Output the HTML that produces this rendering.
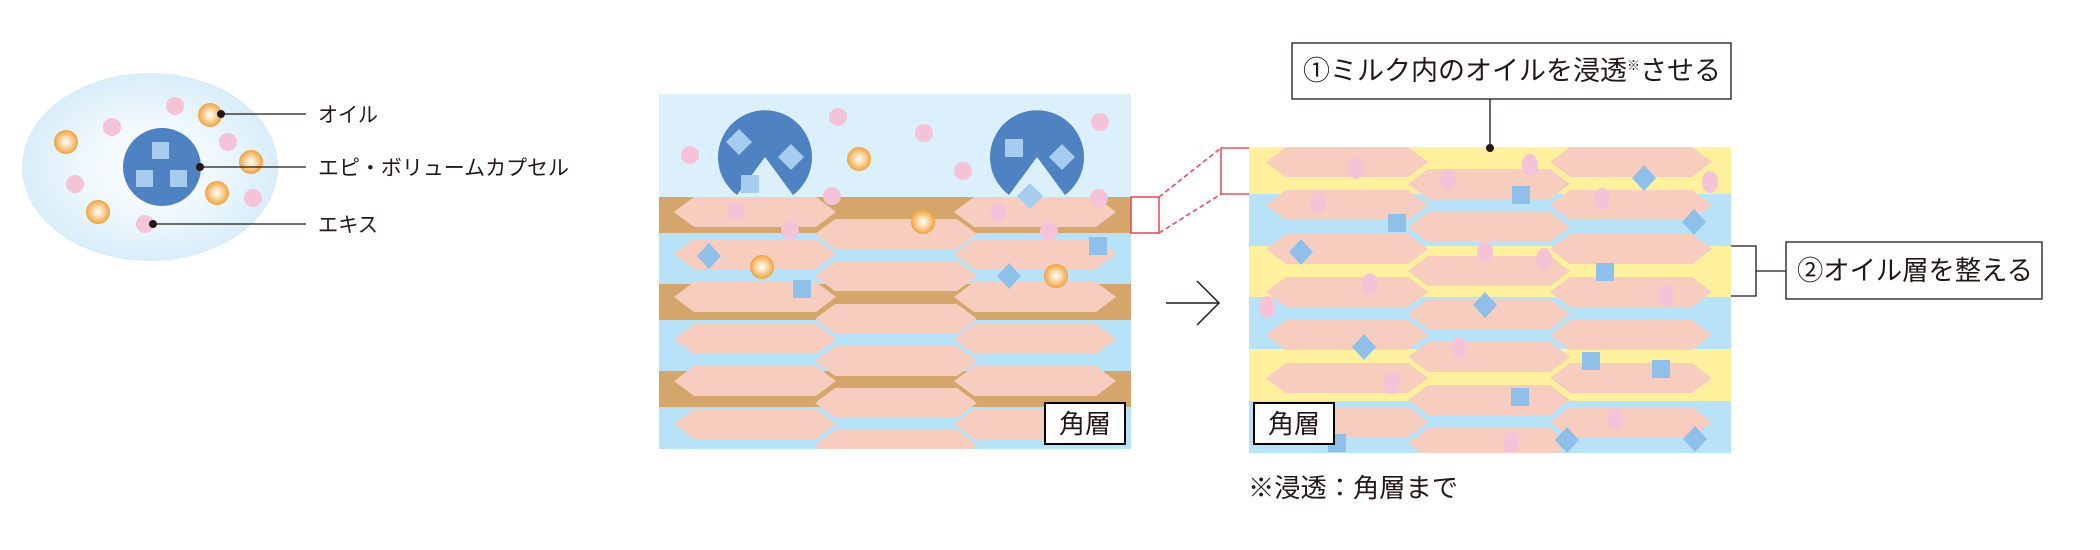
<!DOCTYPE html>
<html><head><meta charset="utf-8"><style>
html,body{margin:0;padding:0;background:#fff;}
svg{display:block;}
text{font-family:"Liberation Sans","Noto Sans CJK JP",sans-serif;fill:#231815;}
</style></head><body>
<svg width="2100" height="550" viewBox="0 0 2100 550" xmlns="http://www.w3.org/2000/svg">
<defs>
<radialGradient id="eg" cx="50%" cy="50%" r="50%"><stop offset="0" stop-color="#ffffff"/><stop offset="0.55" stop-color="#eef7fc"/><stop offset="1" stop-color="#d8edf9"/></radialGradient>
<radialGradient id="og" cx="50%" cy="50%" r="50%"><stop offset="0" stop-color="#ffffff"/><stop offset="0.45" stop-color="#fbd9a8"/><stop offset="1" stop-color="#f0a23e"/></radialGradient>
<polygon id="hx" points="0,15 20,0 142,0 162,15 142,30 20,30" fill="#f7cdbf"/>
<g id="ob"><circle r="12" fill="url(#og)"/></g>
<g id="pk"><ellipse rx="9" ry="9" fill="#f5c3d7"/></g>
<g id="pk2"><ellipse rx="8" ry="11" fill="#f5c3d7"/></g>
<rect id="sq" x="-9" y="-9" width="18" height="18" fill="#8fc0ea"/>
<polygon id="dm" points="0,-13 12,0 0,13 -12,0" fill="#8fc0ea"/>
<clipPath id="c1"><rect x="659" y="94" width="472" height="355"/></clipPath>
<clipPath id="c2"><rect x="1249" y="147" width="482" height="306"/></clipPath>
</defs>

<!-- LEFT -->
<ellipse cx="150" cy="167" rx="128" ry="94" fill="url(#eg)"/>
<circle cx="162" cy="167" r="39" fill="#4f82c3"/>
<rect x="152" y="142" width="17" height="17" fill="#a6cdf0"/>
<rect x="136" y="170" width="17" height="17" fill="#a6cdf0"/>
<rect x="170" y="170" width="17" height="17" fill="#a6cdf0"/>
<use href="#ob" x="210" y="115"/><use href="#ob" x="66" y="142"/><use href="#ob" x="251" y="162"/><use href="#ob" x="217" y="193"/><use href="#ob" x="98" y="212"/>
<use href="#pk" x="175" y="106"/><use href="#pk" x="112" y="127"/><use href="#pk" x="228" y="142"/><use href="#pk" x="75" y="184"/><use href="#pk" x="253" y="198"/><use href="#pk" x="145" y="224"/>
<g stroke="#231815" stroke-width="1.3">
<line x1="221" y1="114" x2="306" y2="114"/><line x1="200" y1="167" x2="306" y2="167"/><line x1="153" y1="224" x2="306" y2="224"/></g>
<circle cx="221" cy="114" r="4" fill="#231815"/><circle cx="200" cy="167" r="4" fill="#231815"/><circle cx="153" cy="224" r="4" fill="#231815"/>
<text x="318" y="122" font-size="21" textLength="60" lengthAdjust="spacingAndGlyphs">オイル</text>
<text x="318" y="175" font-size="21" textLength="251" lengthAdjust="spacingAndGlyphs">エピ・ボリュームカプセル</text>
<text x="318" y="232" font-size="21" textLength="60" lengthAdjust="spacingAndGlyphs">エキス</text>

<!-- MIDDLE -->
<g clip-path="url(#c1)">
<rect x="659" y="94" width="472" height="355" fill="#b8e2f7"/>
<rect x="659" y="94" width="472" height="103" fill="#dcf0fb"/>
<rect x="659" y="197" width="472" height="36" fill="#d5a66c"/>
<rect x="659" y="284" width="472" height="36" fill="#d5a66c"/>
<rect x="659" y="371" width="472" height="36" fill="#d5a66c"/>
<g>
<use href="#hx" x="674" y="197"/><use href="#hx" x="954" y="197"/>
<use href="#hx" x="674" y="239"/><use href="#hx" x="954" y="239"/>
<use href="#hx" x="674" y="282"/><use href="#hx" x="954" y="282"/>
<use href="#hx" x="674" y="324"/><use href="#hx" x="954" y="324"/>
<use href="#hx" x="674" y="366"/><use href="#hx" x="954" y="366"/>
<use href="#hx" x="674" y="409"/><use href="#hx" x="954" y="409"/>
<use href="#hx" x="815" y="219"/><use href="#hx" x="815" y="261"/><use href="#hx" x="815" y="304"/><use href="#hx" x="815" y="346"/><use href="#hx" x="815" y="388"/><use href="#hx" x="815" y="430"/>
</g>
<path d="M 737 195 A 47 47 0 1 1 793 195 L 765 157 Z" fill="#4f82c3"/>
<path d="M 1009 195 A 47 47 0 1 1 1065 195 L 1037 157 Z" fill="#4f82c3"/>
<polygon points="739,129 752,142 739,155 726,142" fill="#a6cdf0"/>
<polygon points="791,144 804,157 791,170 778,157" fill="#a6cdf0"/>
<rect x="741" y="175" width="18" height="18" fill="#a6cdf0"/>
<rect x="1005" y="139" width="18" height="18" fill="#a6cdf0"/>
<polygon points="1062,144 1075,157 1062,170 1049,157" fill="#a6cdf0"/>
<polygon points="1030,183 1043,196 1030,209 1017,196" fill="#a6cdf0"/>
<use href="#pk" x="690" y="155"/><use href="#pk" x="838" y="117"/><use href="#pk" x="924" y="133"/><use href="#pk" x="963" y="171"/><use href="#pk" x="1100" y="122"/><use href="#pk" x="832" y="196"/><use href="#pk" x="736" y="211"/><use href="#pk" x="790" y="230"/><use href="#pk" x="998" y="212"/><use href="#pk" x="1099" y="198"/><use href="#pk" x="1049" y="231"/>
<use href="#ob" x="859" y="159"/><use href="#ob" x="923" y="222"/><use href="#ob" x="762" y="267"/><use href="#ob" x="1056" y="276"/>
<use href="#dm" x="709" y="256"/><use href="#sq" x="802" y="289"/><use href="#dm" x="1009" y="276"/><use href="#sq" x="1098" y="246"/>
</g>
<rect x="1045" y="403" width="80" height="41" fill="#fff" stroke="#000" stroke-width="2"/>
<text x="1085" y="433" font-size="26" text-anchor="middle">角層</text>

<g stroke="#e8505b" stroke-width="1.6" fill="none">
<rect x="1131" y="197" width="28" height="36"/>
<polyline points="1252,148 1221,148 1221,194 1252,194"/>
<line x1="1159" y1="197" x2="1221" y2="148" stroke-dasharray="5,3"/>
<line x1="1159" y1="233" x2="1221" y2="194" stroke-dasharray="5,3"/>
</g>
<g stroke="#231815" stroke-width="1.5" fill="none"><line x1="1166" y1="303" x2="1219" y2="303"/><polyline points="1197,281 1219,303 1197,325"/></g>

<!-- RIGHT -->
<g clip-path="url(#c2)">
<rect x="1249" y="147" width="482" height="306" fill="#b8e2f7"/>
<rect x="1249" y="147" width="482" height="47" fill="#fff09e"/>
<rect x="1249" y="246" width="482" height="51" fill="#fff09e"/>
<rect x="1249" y="349" width="482" height="52" fill="#fff09e"/>
<use href="#hx" x="1266" y="147"/><use href="#hx" x="1550" y="147"/>
<use href="#hx" x="1266" y="190"/><use href="#hx" x="1550" y="190"/>
<use href="#hx" x="1266" y="234"/><use href="#hx" x="1550" y="234"/>
<use href="#hx" x="1266" y="277"/><use href="#hx" x="1550" y="277"/>
<use href="#hx" x="1266" y="320"/><use href="#hx" x="1550" y="320"/>
<use href="#hx" x="1266" y="363"/><use href="#hx" x="1550" y="363"/>
<use href="#hx" x="1266" y="407"/><use href="#hx" x="1550" y="407"/>
<use href="#hx" x="1408" y="169"/><use href="#hx" x="1408" y="212"/><use href="#hx" x="1408" y="256"/><use href="#hx" x="1408" y="299"/><use href="#hx" x="1408" y="342"/><use href="#hx" x="1408" y="385"/><use href="#hx" x="1408" y="428"/>
<use href="#pk2" x="1356" y="168"/><use href="#pk2" x="1530" y="165"/><use href="#pk2" x="1448" y="180"/><use href="#pk2" x="1710" y="182"/><use href="#pk2" x="1318" y="203"/><use href="#pk2" x="1602" y="199"/><use href="#pk2" x="1485" y="252"/><use href="#pk2" x="1544" y="259"/><use href="#pk2" x="1370" y="284"/><use href="#pk2" x="1267" y="307"/><use href="#pk2" x="1666" y="296"/><use href="#pk2" x="1459" y="348"/><use href="#pk2" x="1392" y="383"/><use href="#pk2" x="1615" y="419"/><use href="#pk2" x="1511" y="442"/>
<use href="#sq" x="1521" y="195"/><use href="#sq" x="1397" y="223"/><use href="#sq" x="1605" y="272"/><use href="#sq" x="1591" y="361"/><use href="#sq" x="1661" y="369"/><use href="#sq" x="1520" y="397"/><use href="#sq" x="1337" y="443"/>
<use href="#dm" x="1644" y="178"/><use href="#dm" x="1694" y="222"/><use href="#dm" x="1301" y="252"/><use href="#dm" x="1485" y="305"/><use href="#dm" x="1364" y="347"/><use href="#dm" x="1567" y="440"/><use href="#dm" x="1695" y="439"/>
</g>
<rect x="1254" y="403" width="80" height="41" fill="#fff" stroke="#000" stroke-width="2"/>
<text x="1294" y="433" font-size="26" text-anchor="middle">角層</text>
<text x="1248" y="497" font-size="26" textLength="210" lengthAdjust="spacingAndGlyphs">※浸透：角層まで</text>

<rect x="1292" y="43" width="439" height="56" fill="#fff" stroke="#231815" stroke-width="1.3"/>
<text x="1303" y="80" font-size="27" textLength="418" lengthAdjust="spacingAndGlyphs">①ミルク内のオイルを浸透<tspan font-size="13" dy="-10">※</tspan><tspan dy="10">させる</tspan></text>
<line x1="1490" y1="99" x2="1490" y2="148" stroke="#231815" stroke-width="1.3"/>
<circle cx="1490" cy="148" r="4" fill="#231815"/>
<polyline points="1731,246 1756,246 1756,296 1731,296" fill="none" stroke="#231815" stroke-width="1.3"/>
<line x1="1756" y1="271" x2="1786" y2="271" stroke="#231815" stroke-width="1.3"/>
<rect x="1786" y="242" width="256" height="57" fill="#fff" stroke="#231815" stroke-width="1.3"/>
<text x="1797" y="280" font-size="27" textLength="236" lengthAdjust="spacingAndGlyphs">②オイル層を整える</text>
</svg>
</body></html>
